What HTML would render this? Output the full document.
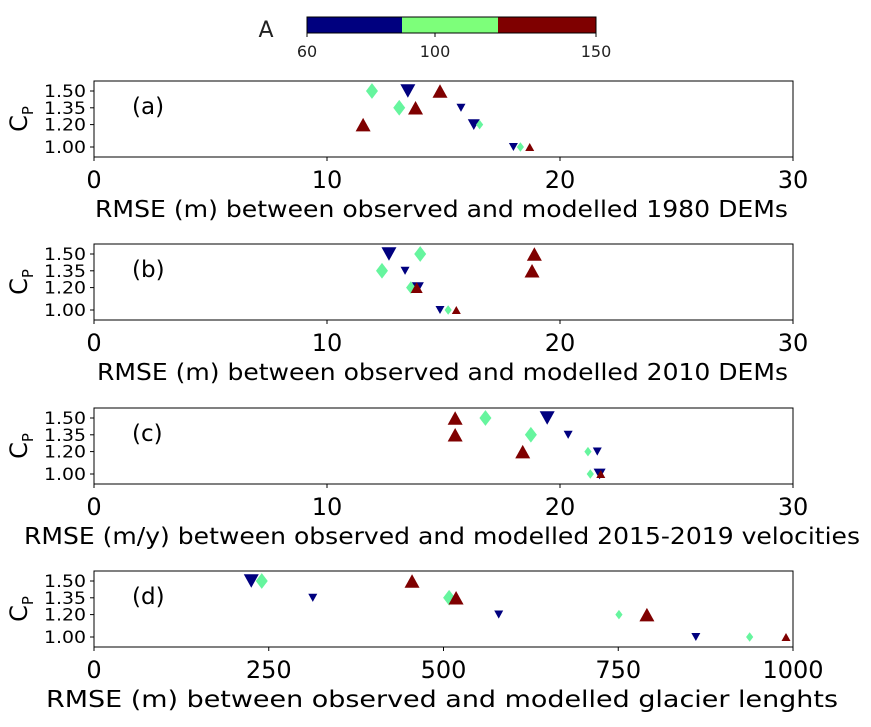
<!DOCTYPE html>
<html><head><meta charset="utf-8">
<style>
html,body{margin:0;padding:0;background:#fff;}
svg{display:block;font-family:"DejaVu Sans","Liberation Sans",sans-serif;}
</style></head>
<body>
<svg id="chart" width="871" height="727" viewBox="0 0 871 727" xmlns="http://www.w3.org/2000/svg">
  <g>
    <text x="266" y="37" font-size="22" text-anchor="middle" fill="#222">A</text>
    <rect x="307" y="17" width="95" height="16" fill="#00007f"/>
    <rect x="402" y="17" width="96" height="16" fill="#7dff7a"/>
    <rect x="498" y="17" width="98" height="16" fill="#7f0000"/>
    <rect x="307" y="17" width="289" height="16" fill="none" stroke="#000" stroke-width="1"/>
    <line x1="307" y1="33" x2="307" y2="37" stroke="#000"/>
    <line x1="435" y1="33" x2="435" y2="37" stroke="#000"/>
    <line x1="596" y1="33" x2="596" y2="37" stroke="#000"/>
    <text x="307" y="57" font-size="16" text-anchor="middle" fill="#222">60</text>
    <text x="435" y="57" font-size="16" text-anchor="middle" fill="#222">100</text>
    <text x="596" y="57" font-size="16" text-anchor="middle" fill="#222">150</text>
  </g>
</svg>
<script>
const cpLevels = [1.5, 1.35, 1.2, 1.0];
const aValues = [60, 100, 150];
const panelLabels = ['(a)', '(b)', '(c)', '(d)'];
const xLabels = ['RMSE (m) between observed and modelled 1980 DEMs','RMSE (m) between observed and modelled 2010 DEMs','RMSE (m/y) between observed and modelled 2015-2019 velocities','RMSE (m) between observed and modelled glacier lenghts'];
const xMaxes = [30, 30, 30, 1000];
const xTicksA = [0, 10, 20, 30];
const xTicksD = [0, 250, 500, 750, 1000];
const rmseA60 = [13.47, 15.75, 16.3, 18.0];
const rmseA100 = [11.93, 13.1, 16.55, 18.3];
const rmseA150 = [14.85, 13.8, 11.55, 18.7];
const rmseB60 = [12.66, 13.35, 13.9, 14.85];
const rmseB100 = [14.0, 12.36, 13.6, 15.2];
const rmseB150 = [18.9, 18.8, 13.85, 15.55];
const rmseC60 = [19.45, 20.35, 21.6, 21.7];
const rmseC100 = [16.8, 18.75, 21.2, 21.3];
const rmseC150 = [15.5, 15.5, 18.4, 21.75];
const rmseD60 = [225, 313, 579, 861];
const rmseD100 = [240, 508, 751, 938];
const rmseD150 = [455, 518, 791, 990];
// marker size class: 2 large, 1 medium, 0 small
const sizeA = [[2,0,1,0],[2,2,0,0],[2,2,2,0]];
const sizeB = [[2,0,1,0],[2,2,1,0],[2,2,1,0]];
const sizeC = [[2,0,0,1],[2,2,0,0],[2,2,2,0]];
const sizeD = [[2,0,0,0],[2,2,0,0],[2,2,2,0]];

const panels = [[rmseA60,rmseA100,rmseA150],[rmseB60,rmseB100,rmseB150],[rmseC60,rmseC100,rmseC150],[rmseD60,rmseD100,rmseD150]];
const sizes = [sizeA,sizeB,sizeC,sizeD];
const colors = ['#00007f','#66f59e','#7f0000'];
const xLabelSpans = [[95,788],[97,788],[24,860],[46,838]];
const NS='http://www.w3.org/2000/svg';
const svg=document.getElementById('chart');
function mk(tag, attrs, parent){const e=document.createElementNS(NS,tag);for(const k in attrs)e.setAttribute(k,attrs[k]);(parent||svg).appendChild(e);return e;}
const L=94,R=793,tops=[81,244,408,571],H=76;
panels.forEach((series,pi)=>{
  const top=tops[pi], bot=top+H;
  const g=mk('g',{});
  
  
  const xs=v=>L+(v/xMaxes[pi])*(R-L);
  const ys=c=>top+10+(1.5-c)/0.5*56;
  const frame=mk('rect',{x:L,y:top,width:R-L,height:H,fill:'none',stroke:'#000','stroke-width':1},g);
  
  
  cpLevels.forEach(c=>{
    const y=ys(c);
    mk('line',{x1:L-4,y1:y,x2:L,y2:y,stroke:'#000'},g);
    const t=mk('text',{x:L-8,y:y+6,'font-size':17,'text-anchor':'end',fill:'#000',textLength:42,lengthAdjust:'spacingAndGlyphs'},g);
    t.textContent=c.toFixed(2);
    
    
  });
  const yl=mk('text',{x:0,y:0,'font-size':24,'text-anchor':'middle',transform:`translate(27,${top+H/2}) rotate(-90)`},g);
  yl.innerHTML='C<tspan font-size="15" dy="6">P</tspan>';
  
  
  const ticks=pi===3?xTicksD:xTicksA;
  ticks.forEach(v=>{
    const x=xs(v);
    mk('line',{x1:x,y1:bot,x2:x,y2:bot+4,stroke:'#000'},g);
    const t=mk('text',{x:x,y:bot+31,'font-size':24,'text-anchor':'middle'},g);
    t.textContent=v;
    
    
  });
  const sp=xLabelSpans[pi];
  const xl=mk('text',{x:sp[0],y:bot+60,'font-size':23,textLength:sp[1]-sp[0],lengthAdjust:'spacingAndGlyphs'},g);
  xl.textContent=xLabels[pi];
  
  
  const pl=mk('text',{x:132,y:top+33,'font-size':23},g);
  pl.textContent=panelLabels[pi];
  
  
  series.forEach((vals,ai)=>{
    vals.forEach((v,ci)=>{
      const cx=xs(v), cy=ys(cpLevels[ci]);
      const s=[4.5,6,7.5][sizes[pi][ai][ci]];
      let pts;
      if(ai===0) pts=`${cx-s},${cy-s*0.9} ${cx+s},${cy-s*0.9} ${cx},${cy+s*0.9}`;
      else if(ai===1) pts=`${cx},${cy-s*1.05} ${cx+s*0.8},${cy} ${cx},${cy+s*1.05} ${cx-s*0.8},${cy}`;
      else pts=`${cx-s},${cy+s*0.9} ${cx+s},${cy+s*0.9} ${cx},${cy-s*0.9}`;
      const m=mk('polygon',{points:pts,fill:colors[ai]},g);
      
      
    });
  });
});
</script>
</body></html>
